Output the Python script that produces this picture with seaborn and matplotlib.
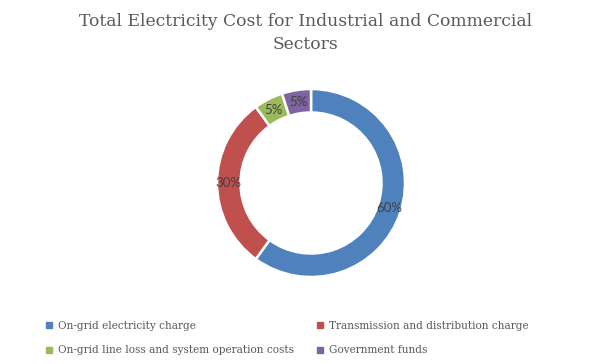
import matplotlib
matplotlib.use("Agg")
import matplotlib.pyplot as plt
import seaborn as sns
from matplotlib.lines import Line2D

# ---------------------------------------------------
# Data
# ---------------------------------------------------

categories = [
    "On-grid electricity charge",
    "Transmission and distribution charge",
    "On-grid line loss and system operation costs",
    "Government funds",
]
shares = [60, 30, 5, 5]
colors = ["#4F81BD", "#C0504D", "#9BBB59", "#8064A2"]

TITLE = "Total Electricity Cost for Industrial and Commercial\nSectors"

# ---------------------------------------------------
# Plot
# ---------------------------------------------------

sns.set_theme(style="white")
palette = sns.color_palette(colors)

fig = plt.figure(figsize=(6.12, 3.64), dpi=100)
ax = fig.add_axes([0.3546, 0.239, 0.3072, 0.5165])

wedges, texts, autotexts = ax.pie(
    shares,
    colors=palette,
    startangle=90,
    counterclock=False,
    radius=1.0,
    wedgeprops=dict(width=0.25, edgecolor="white", linewidth=1.8),
    autopct=lambda p: f"{p:.0f}%",
    pctdistance=0.875,
    textprops=dict(color="#404040", fontsize=9.5, family="Lato"),
)
ax.set_xlim(-1, 1)
ax.set_ylim(-1, 1)
ax.set_aspect("equal")
ax.axis("off")

fig.text(0.5, 0.965, TITLE, ha="center", va="top", color="#595959",
         fontsize=12.3, family="DejaVu Serif", linespacing=1.45)

# legend filled row by row like the original
order = [0, 2, 1, 3]
handles = [Line2D([0], [0], marker="s", linestyle="", markersize=4,
                  markerfacecolor=palette[i], markeredgecolor=palette[i])
           for i in order]
labels = [categories[i] for i in order]
leg = fig.legend(handles, labels, ncol=2, loc="upper left",
                 bbox_to_anchor=(0.06, 0.145), frameon=False,
                 prop=dict(family="DejaVu Serif", size=7.6),
                 labelcolor="#595959", handlelength=0.6, handletextpad=0.5,
                 columnspacing=2.2, labelspacing=1.4)

plt.savefig("out.png", dpi=100)
plt.close()
